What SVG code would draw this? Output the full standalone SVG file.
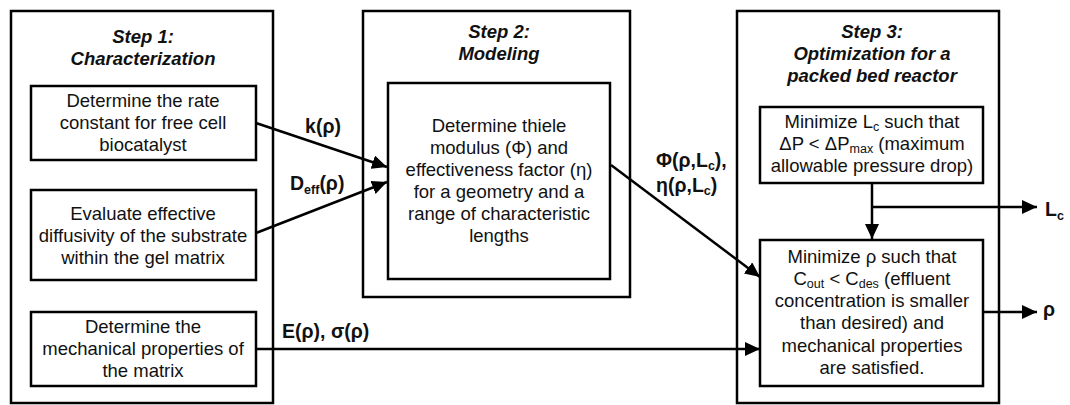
<svg xmlns="http://www.w3.org/2000/svg" width="1070" height="405" viewBox="0 0 1070 405">
<defs>
<marker id="ah" markerUnits="userSpaceOnUse" markerWidth="16" markerHeight="14" refX="15" refY="7" orient="auto">
<path d="M0,0 L15,7 L0,14 Z" fill="#000"/>
</marker>
</defs>
<style>
.outer{fill:#fff;stroke:#000;stroke-width:2.5}
.inner{fill:#fff;stroke:#000;stroke-width:2.5}
.t{font-family:"Liberation Sans",Arial,sans-serif;font-size:18.5px;text-anchor:middle;fill:#111}
.h{font-family:"Liberation Sans",Arial,sans-serif;font-size:18.5px;font-weight:bold;font-style:italic;text-anchor:middle;fill:#111}
.l{font-family:"Liberation Sans",Arial,sans-serif;font-size:19.5px;font-weight:bold;fill:#111}
.c{fill:none;stroke:#000;stroke-width:2.5}
.s{font-size:12.5px}
</style>
<rect width="1070" height="405" fill="#fff"/>
<g id="step1">
<rect class="outer" x="11" y="11" width="262" height="392"/>
<text class="h" x="143" y="43">Step 1:</text>
<text class="h" x="143" y="65">Characterization</text>
</g>
<g id="rate">
<rect class="inner" x="31" y="86" width="225" height="74"/>
<text class="t" x="143" y="107">Determine the rate</text>
<text class="t" x="143" y="129">constant for free cell</text>
<text class="t" x="143" y="151">biocatalyst</text>
</g>
<g id="diffusivity">
<rect class="inner" x="31" y="190" width="225" height="90"/>
<text class="t" x="143" y="220">Evaluate effective</text>
<text class="t" x="143" y="242">diffusivity of the substrate</text>
<text class="t" x="143" y="264">within the gel matrix</text>
</g>
<g id="mechanical">
<rect class="inner" x="31" y="312" width="225" height="74"/>
<text class="t" x="143" y="333">Determine the</text>
<text class="t" x="143" y="355">mechanical properties of</text>
<text class="t" x="143" y="377">the matrix</text>
</g>
<g id="step2">
<rect class="outer" x="363" y="11" width="267" height="286"/>
<text class="h" x="499" y="38">Step 2:</text>
<text class="h" x="499" y="60">Modeling</text>
</g>
<g id="thiele">
<rect class="inner" x="388" y="83" width="222" height="196"/>
<text class="t" x="499" y="132">Determine thiele</text>
<text class="t" x="499" y="154">modulus (Φ) and</text>
<text class="t" x="499" y="176">effectiveness factor (η)</text>
<text class="t" x="499" y="198">for a geometry and a</text>
<text class="t" x="499" y="220">range of characteristic</text>
<text class="t" x="499" y="242">lengths</text>
</g>
<g id="step3">
<rect class="outer" x="737" y="11" width="262" height="392"/>
<text class="h" x="872" y="38">Step 3:</text>
<text class="h" x="872" y="60">Optimization for a</text>
<text class="h" x="872" y="82">packed bed reactor</text>
</g>
<g id="minLc">
<rect class="inner" x="760" y="107" width="223" height="76"/>
<text class="t" x="872" y="128">Minimize L<tspan class="s" dy="3">c</tspan><tspan dy="-3"> such that</tspan></text>
<text class="t" x="872" y="150">ΔP &lt; ΔP<tspan class="s" dy="3">max</tspan><tspan dy="-3"> (maximum</tspan></text>
<text class="t" x="872" y="172">allowable pressure drop)</text>
</g>
<g id="minRho">
<rect class="inner" x="760" y="240" width="223" height="146"/>
<text class="t" x="872" y="263">Minimize ρ such that</text>
<text class="t" x="872" y="285">C<tspan class="s" dy="3">out</tspan><tspan dy="-3"> &lt; C</tspan><tspan class="s" dy="3">des</tspan><tspan dy="-3"> (effluent</tspan></text>
<text class="t" x="872" y="307">concentration is smaller</text>
<text class="t" x="872" y="329">than desired) and</text>
<text class="t" x="872" y="352">mechanical properties</text>
<text class="t" x="872" y="374">are satisfied.</text>
</g>
<g id="connectors">
<line class="c" x1="256" y1="123" x2="387" y2="167" marker-end="url(#ah)"/>
<line class="c" x1="256" y1="233" x2="387" y2="182" marker-end="url(#ah)"/>
<line class="c" x1="256" y1="349" x2="760" y2="349" marker-end="url(#ah)"/>
<line class="c" x1="611" y1="165" x2="760" y2="277" marker-end="url(#ah)"/>
<line class="c" x1="872" y1="183" x2="872" y2="239" marker-end="url(#ah)"/>
<line class="c" x1="872" y1="207" x2="1037" y2="207" marker-end="url(#ah)"/>
<line class="c" x1="983" y1="312" x2="1037" y2="312" marker-end="url(#ah)"/>
<text class="l" x="323" y="133" text-anchor="middle">k(ρ)</text>
<text class="l" x="290" y="190">D<tspan class="s" dy="4">eff</tspan><tspan dy="-4">(ρ)</tspan></text>
<text class="l" x="282" y="338">E(ρ), σ(ρ)</text>
<text class="l" x="656" y="167">Φ(ρ,L<tspan class="s" dy="3">c</tspan><tspan dy="-3">),</tspan></text>
<text class="l" x="656" y="192">η(ρ,L<tspan class="s" dy="3">c</tspan><tspan dy="-3">)</tspan></text>
<text class="l" x="1045" y="216">L<tspan class="s" dy="4">c</tspan></text>
<text class="l" x="1043" y="316">ρ</text>
</g>
</svg>
